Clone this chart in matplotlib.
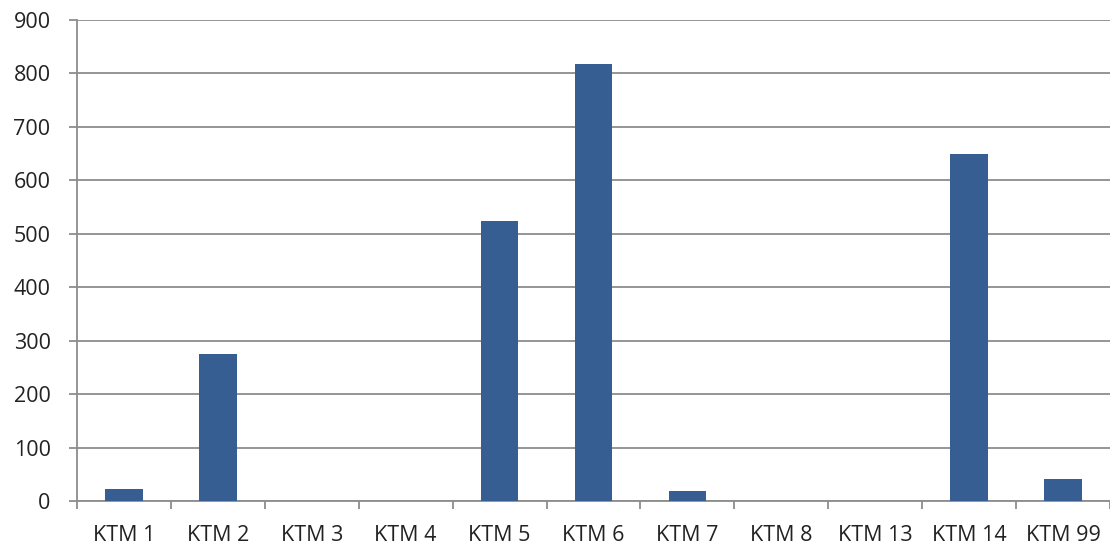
import matplotlib.pyplot as plt
import numpy as np

categories = ['KTM 1', 'KTM 2', 'KTM 3', 'KTM 4', 'KTM 5', 'KTM 6',
              'KTM 7', 'KTM 8', 'KTM 13', 'KTM 14', 'KTM 99']
values = [23, 275, 0, 0, 525, 818, 19, 0, 0, 649, 42]
yticks = list(range(0, 1000, 100))

plt.rcParams['font.family'] = ['Open Sans', 'DejaVu Sans']

fig = plt.figure(figsize=(11.1, 5.47), dpi=100)
ax = fig.add_axes([77 / 1110, 45.7 / 547, 1 - 77 / 1110, 481.3 / 547])

x = np.arange(len(categories))
ax.bar(x, values, width=0.4, color='#365E92', zorder=3)

ax.set_xlim(-0.5, len(categories) - 0.5)
ax.set_ylim(0, 900)
ax.set_yticks(yticks)
ax.set_xticks(x)
ax.set_xticklabels(categories)
ax.set_xticks(np.arange(len(categories) + 1) - 0.5, minor=True)

ax.grid(axis='y', color='#8c8c8c', linewidth=1.3, zorder=0)
for side in ['top', 'right']:
    ax.spines[side].set_visible(False)
for side in ['left', 'bottom']:
    ax.spines[side].set_color('#8c8c8c')
    ax.spines[side].set_linewidth(1.3)

ax.tick_params(axis='y', length=6, width=1.3, color='#8c8c8c', pad=13,
               labelsize=15.5, labelcolor='#222222')
ax.tick_params(axis='x', which='major', length=0, pad=17,
               labelsize=15.5, labelcolor='#222222')
ax.tick_params(axis='x', which='minor', length=6, width=1.3, color='#8c8c8c')

fig.savefig('out.png', dpi=100)
